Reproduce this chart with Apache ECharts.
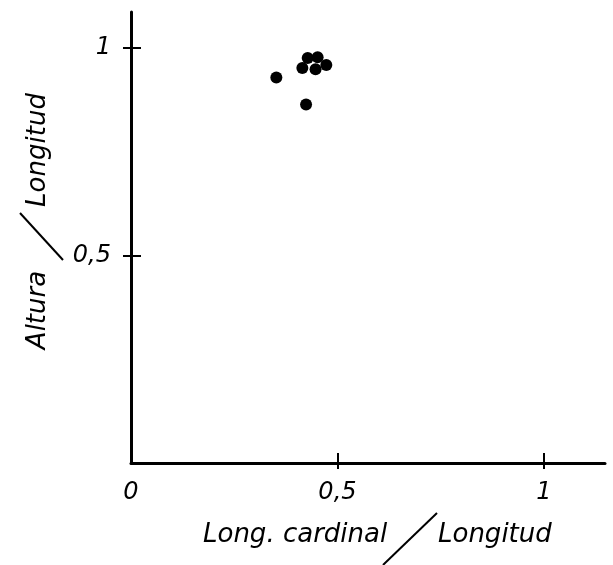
<!DOCTYPE html>
<html>
<head>
<meta charset="utf-8">
<script src="https://cdn.jsdelivr.net/npm/echarts@6/dist/echarts.min.js"></script>
<style>html,body{margin:0;padding:0;background:#fff}#c{width:613px;height:565px}</style>
</head>
<body>
<div id="c"></div>
<script>
// Data
var xValues = [0.352, 0.424, 0.415, 0.428, 0.452, 0.447, 0.473];
var yValues = [0.929, 0.864, 0.952, 0.976, 0.978, 0.949, 0.959];
var tickValues = [0, 0.5, 1];
var tickLabels = ['0', '0,5', '1'];
var xTitleLeft = 'Long. cardinal';
var xTitleRight = 'Longitud';
var yTitleLower = 'Altura';
var yTitleUpper = 'Longitud';

var points = xValues.map(function (x, i) { return [x, yValues[i]]; });
var FONT = 'DejaVu Sans';
function fmt(v) {
  var i = tickValues.indexOf(Math.round(v * 1000) / 1000);
  return i >= 0 ? tickLabels[i] : '';
}
var chart = echarts.init(document.getElementById('c'), null, {renderer: 'canvas'});
var labelStyle = {color: '#000', fontFamily: FONT, fontStyle: 'italic', fontSize: 24};
var titleFont = 'italic 26px "' + FONT + '"';
chart.setOption({
  animation: false,
  backgroundColor: '#fff',
  grid: {left: 131, right: 8, top: 12, bottom: 102, containLabel: false},
  xAxis: [{
    type: 'value', min: 0, max: 1.148, position: 'bottom',
    axisLine: {show: true, onZero: false, lineStyle: {color: '#000', width: 3}},
    axisTick: {show: true, inside: true, length: 10, customValues: [0.5, 1], lineStyle: {color: '#000', width: 2}},
    axisLabel: Object.assign({show: true, margin: 18, customValues: [0, 0.5, 1], formatter: fmt}, labelStyle),
    splitLine: {show: false}
  }, {
    type: 'value', min: 0, max: 1.148, position: 'bottom',
    axisLine: {show: false},
    axisTick: {show: true, inside: false, length: 6, customValues: [0.5, 1], lineStyle: {color: '#000', width: 2}},
    axisLabel: {show: false},
    splitLine: {show: false}
  }],
  yAxis: [{
    type: 'value', min: 0, max: 1.087, position: 'left',
    axisLine: {show: true, onZero: false, lineStyle: {color: '#000', width: 3}},
    axisTick: {show: true, inside: false, length: 8, customValues: [0.5, 1], lineStyle: {color: '#000', width: 2}},
    axisLabel: Object.assign({show: true, margin: 20, customValues: [0.5, 1], formatter: fmt}, labelStyle),
    splitLine: {show: false}
  }, {
    type: 'value', min: 0, max: 1.087, position: 'left',
    axisLine: {show: false},
    axisTick: {show: true, inside: true, length: 10, customValues: [0.5, 1], lineStyle: {color: '#000', width: 2}},
    axisLabel: {show: false},
    splitLine: {show: false}
  }],
  series: [{
    type: 'scatter',
    xAxisIndex: 0, yAxisIndex: 0,
    data: points,
    symbol: 'circle',
    symbolSize: 12,
    itemStyle: {color: '#000', opacity: 1}
  }],
  graphic: [
    {type: 'text', left: 203, top: 522, style: {text: xTitleLeft, fill: '#000', font: titleFont}},
    {type: 'text', left: 438, top: 522, style: {text: xTitleRight, fill: '#000', font: titleFont}},
    {type: 'line', shape: {x1: 383, y1: 565, x2: 437, y2: 513}, style: {stroke: '#000', lineWidth: 2}},
    {type: 'text', x: 38, y: 310, rotation: Math.PI / 2,
     style: {text: yTitleLower, fill: '#000', font: titleFont, align: 'center', verticalAlign: 'middle'}},
    {type: 'text', x: 38, y: 150, rotation: Math.PI / 2,
     style: {text: yTitleUpper, fill: '#000', font: titleFont, align: 'center', verticalAlign: 'middle'}},
    {type: 'line', shape: {x1: 20, y1: 213, x2: 63, y2: 260}, style: {stroke: '#000', lineWidth: 2}}
  ]
});
</script>
</body>
</html>
